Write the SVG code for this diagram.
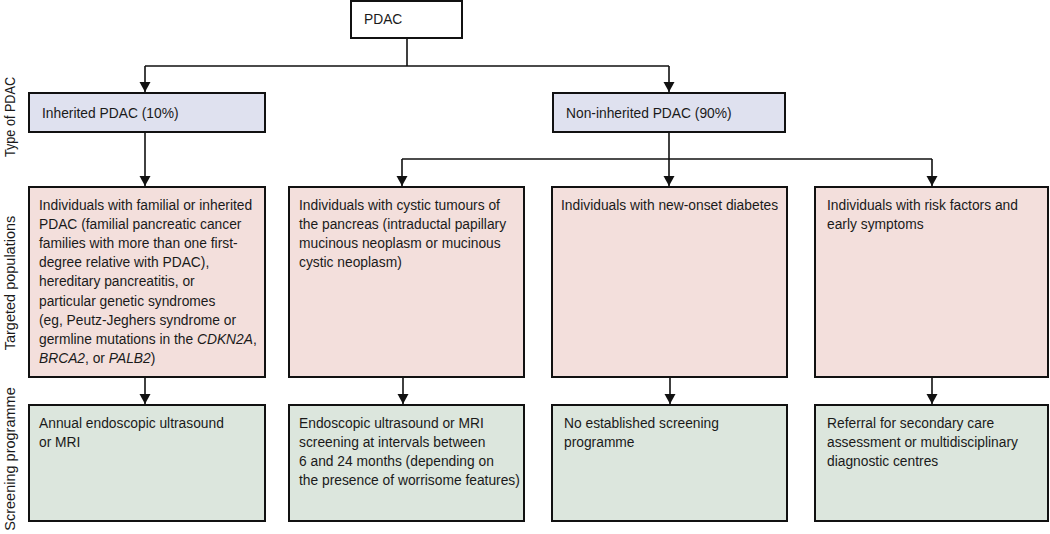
<svg xmlns="http://www.w3.org/2000/svg" width="1050" height="534" viewBox="0 0 1050 534">
<defs>
<style>
text{font-family:"Liberation Sans",Arial,sans-serif;font-size:13.8px;fill:#1a1a1a}
.lbl{font-size:14.5px;text-anchor:middle}
.box{stroke:#111;stroke-width:2}
.white{fill:#ffffff}
.blue{fill:#dfe1ef}
.pink{fill:#f3dfdc}
.green{fill:#dce6dd}
.con{fill:none;stroke:#111;stroke-width:1.6}
.it{font-style:italic}
</style>
<marker id="ah" markerUnits="userSpaceOnUse" markerWidth="11" markerHeight="12" refX="10" refY="5.5" orient="auto" viewBox="0 0 11 11">
<path d="M0,0 L10,5.5 L0,11 z" fill="#111"/>
</marker>
</defs>

<g id="row-labels">
<text class="lbl" transform="translate(15,117) rotate(-90)" textLength="80" lengthAdjust="spacingAndGlyphs">Type of PDAC</text>
<text class="lbl" transform="translate(15,283) rotate(-90)">Targeted populations</text>
<text class="lbl" transform="translate(15,459) rotate(-90)">Screening programme</text>
</g>

<g id="connectors">
<path class="con" d="M407,38 V66 M145,66 H669"/>
<path class="con" d="M145,66 V92" marker-end="url(#ah)"/>
<path class="con" d="M669,66 V92" marker-end="url(#ah)"/>
<path class="con" d="M145,132 V186" marker-end="url(#ah)"/>
<path class="con" d="M669,132 V186" marker-end="url(#ah)"/>
<path class="con" d="M402,159 H932"/>
<path class="con" d="M402,159 V186" marker-end="url(#ah)"/>
<path class="con" d="M932,159 V186" marker-end="url(#ah)"/>
<path class="con" d="M145,377 V404" marker-end="url(#ah)"/>
<path class="con" d="M403,377 V404" marker-end="url(#ah)"/>
<path class="con" d="M670,377 V404" marker-end="url(#ah)"/>
<path class="con" d="M932,377 V404" marker-end="url(#ah)"/>
</g>

<g id="pdac">
<rect class="box white" x="351" y="1" width="111" height="37"/>
<text x="364" y="23.5">PDAC</text>
</g>

<g id="inherited">
<rect class="box blue" x="29" y="93" width="236" height="39"/>
<text x="42" y="117.5">Inherited PDAC (10%)</text>
</g>

<g id="non-inherited">
<rect class="box blue" x="553" y="93" width="232" height="39"/>
<text x="566" y="117.5">Non-inherited PDAC (90%)</text>
</g>

<g id="pop-familial">
<rect class="box pink" x="29" y="187" width="236" height="190"/>
<text x="39" y="210">Individuals with familial or inherited</text>
<text x="39" y="229.1">PDAC (familial pancreatic cancer</text>
<text x="39" y="248.2">families with more than one first-</text>
<text x="39" y="267.3">degree relative with PDAC),</text>
<text x="39" y="286.4">hereditary pancreatitis, or</text>
<text x="39" y="305.5">particular genetic syndromes</text>
<text x="39" y="324.6">(eg, Peutz-Jeghers syndrome or</text>
<text x="39" y="343.7">germline mutations in the <tspan class="it">CDKN2A</tspan>,</text>
<text x="39" y="362.8"><tspan class="it">BRCA2</tspan>, or <tspan class="it">PALB2</tspan>)</text>
</g>

<g id="pop-cystic">
<rect class="box pink" x="289" y="187" width="235" height="190"/>
<text x="299" y="210">Individuals with cystic tumours of</text>
<text x="299" y="229.1">the pancreas (intraductal papillary</text>
<text x="299" y="248.2">mucinous neoplasm or mucinous</text>
<text x="299" y="267.3">cystic neoplasm)</text>
</g>

<g id="pop-diabetes">
<rect class="box pink" x="552" y="187" width="235" height="190"/>
<text x="561" y="210">Individuals with new-onset diabetes</text>
</g>

<g id="pop-risk">
<rect class="box pink" x="815" y="187" width="233" height="190"/>
<text x="827" y="210">Individuals with risk factors and</text>
<text x="827" y="229.1">early symptoms</text>
</g>

<g id="scr-annual">
<rect class="box green" x="29" y="405" width="236" height="116"/>
<text x="39" y="427.5">Annual endoscopic ultrasound</text>
<text x="39" y="446.5">or MRI</text>
</g>

<g id="scr-interval">
<rect class="box green" x="289" y="405" width="235" height="116"/>
<text x="299" y="427.5">Endoscopic ultrasound or MRI</text>
<text x="299" y="446.5">screening at intervals between</text>
<text x="299" y="465.5">6 and 24 months (depending on</text>
<text x="299" y="484.5">the presence of worrisome features)</text>
</g>

<g id="scr-none">
<rect class="box green" x="552" y="405" width="235" height="116"/>
<text x="564" y="427.5">No established screening</text>
<text x="564" y="446.5">programme</text>
</g>

<g id="scr-referral">
<rect class="box green" x="815" y="405" width="233" height="116"/>
<text x="827" y="427.5">Referral for secondary care</text>
<text x="827" y="446.5">assessment or multidisciplinary</text>
<text x="827" y="465.5">diagnostic centres</text>
</g>
</svg>
